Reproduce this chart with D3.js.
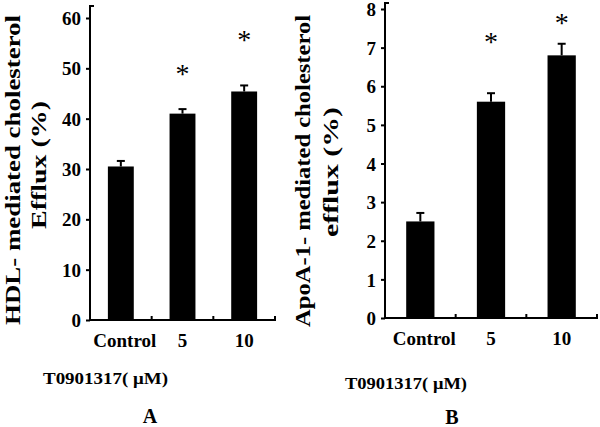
<!DOCTYPE html>
<html><head><meta charset="utf-8">
<script src="https://cdn.jsdelivr.net/npm/d3@7"></script>
<style>body{margin:0;background:#fff}svg{display:block}text{font-family:"Liberation Serif","Times New Roman",serif;font-weight:bold;fill:#000}</style>
</head><body>
<svg id="c" width="600" height="427"></svg>
<script>
const categories = ["Control", "5", "10"];
const hdlValues = [30.5, 41, 45.4];
const hdlErrors = [1.1, 0.9, 1.2];
const hdlStars = [null, 49.6, 56.5];
const hdlTicks = [0, 10, 20, 30, 40, 50, 60];
const apoValues = [2.5, 5.6, 6.8];
const apoErrors = [0.22, 0.22, 0.3];
const apoStars = [null, 7.24, 7.75];
const apoTicks = [0, 1, 2, 3, 4, 5, 6, 7, 8];
const xTitle = "T0901317( \u03bcM)";

const svg = d3.select("#c");

function panel(o) {
  const g = svg.append("g");
  const x = d3.scaleBand().domain(o.cats).range([o.x0, o.x1]).padding(0);
  const y = d3.scaleLinear().domain([0, o.max]).range([o.yb, o.yt]);
  const bw = x.bandwidth() * o.frac;
  g.selectAll("rect.bar").data(o.vals).join("rect")
    .attr("x", (d, i) => x(o.cats[i]) + x.bandwidth() / 2 - bw / 2)
    .attr("y", d => y(d)).attr("width", bw).attr("height", d => y(0) - y(d))
    .attr("fill", "#000");
  o.vals.forEach((v, i) => {
    const cx = x(o.cats[i]) + x.bandwidth() / 2;
    g.append("line").attr("x1", cx).attr("x2", cx).attr("y1", y(v)).attr("y2", y(v + o.errs[i])).attr("stroke", "#000").attr("stroke-width", 2);
    g.append("line").attr("x1", cx - 4).attr("x2", cx + 4).attr("y1", y(v + o.errs[i])).attr("y2", y(v + o.errs[i])).attr("stroke", "#000").attr("stroke-width", 2);
    if (o.stars[i] != null) {
      g.append("text").attr("x", cx).attr("y", y(o.stars[i]) + 13).attr("text-anchor", "middle")
        .style("font-size", "28px").style("font-weight", "normal").text("*");
    }
  });
  const ya = g.append("g").attr("transform", `translate(${o.x0},0)`)
    .call(d3.axisLeft(y).tickValues(o.ticks).tickSize(4).tickSizeOuter(0).tickPadding(5));
  ya.attr("font-family", null);
  ya.select(".domain").remove();
  ya.selectAll(".tick line").attr("stroke-width", 2);
  ya.selectAll(".tick text").style("font-size", "19px").attr("dy", "0.35em");
  g.append("path").attr("d", `M${o.x0 + 4},${o.ytop}H${o.x0}V${o.yb}`).attr("fill", "none").attr("stroke", "#000").attr("stroke-width", 2);
  g.append("path").attr("d", `M${o.x0},${o.yb}H${o.x1}V${o.yb - 4}`).attr("fill", "none").attr("stroke", "#000").attr("stroke-width", 2);
  o.cats.slice(1).forEach(c => {
    g.append("line").attr("x1", x(c)).attr("x2", x(c)).attr("y1", o.yb).attr("y2", o.yb - 4).attr("stroke", "#000").attr("stroke-width", 2);
  });
  o.cats.forEach((c, i) => {
    g.append("text").attr("x", x(c) + x.bandwidth() / 2 + (i === 0 ? 4 : 0)).attr("y", o.yb + 27)
      .attr("text-anchor", "middle").style("font-size", "19px").text(c);
  });
  o.ytitle.forEach((t, k) => {
    g.append("text").attr("transform", `translate(${o.tx[k]},${o.ty[k]}) rotate(-90)`)
      .attr("text-anchor", "middle").style("font-size", "20px")
      .attr("textLength", o.tl[k]).attr("lengthAdjust", "spacingAndGlyphs").text(t);
  });
  g.append("text").attr("x", o.xtx).attr("y", o.xty).style("font-size", "17px")
    .attr("textLength", o.xtl).attr("lengthAdjust", "spacingAndGlyphs").text(xTitle);
  g.append("text").attr("x", o.lx).attr("y", o.ly).attr("text-anchor", "middle").style("font-size", "20px").text(o.letter);
}

panel({cats: categories, vals: hdlValues, errs: hdlErrors, stars: hdlStars, ticks: hdlTicks, max: 60,
  x0: 90, x1: 275, yb: 320, yt: 18, ytop: 6, frac: 0.42,
  ytitle: ["HDL- mediated cholesterol", "Efflux (%)"], tx: [20, 46], ty: [170, 165], tl: [310, 128],
  xtx: 43, xty: 384, xtl: 125, lx: 150, ly: 423, letter: "A"});

panel({cats: categories, vals: apoValues, errs: apoErrors, stars: apoStars, ticks: apoTicks, max: 8,
  x0: 385, x1: 597, yb: 318, yt: 9, ytop: 3, frac: 0.40,
  ytitle: ["ApoA-1- mediated cholesterol", "efflux (%)"], tx: [310, 338], ty: [171, 172], tl: [312, 130],
  xtx: 345, xty: 389, xtl: 122, lx: 452, ly: 424, letter: "B"});
</script>
</body></html>
